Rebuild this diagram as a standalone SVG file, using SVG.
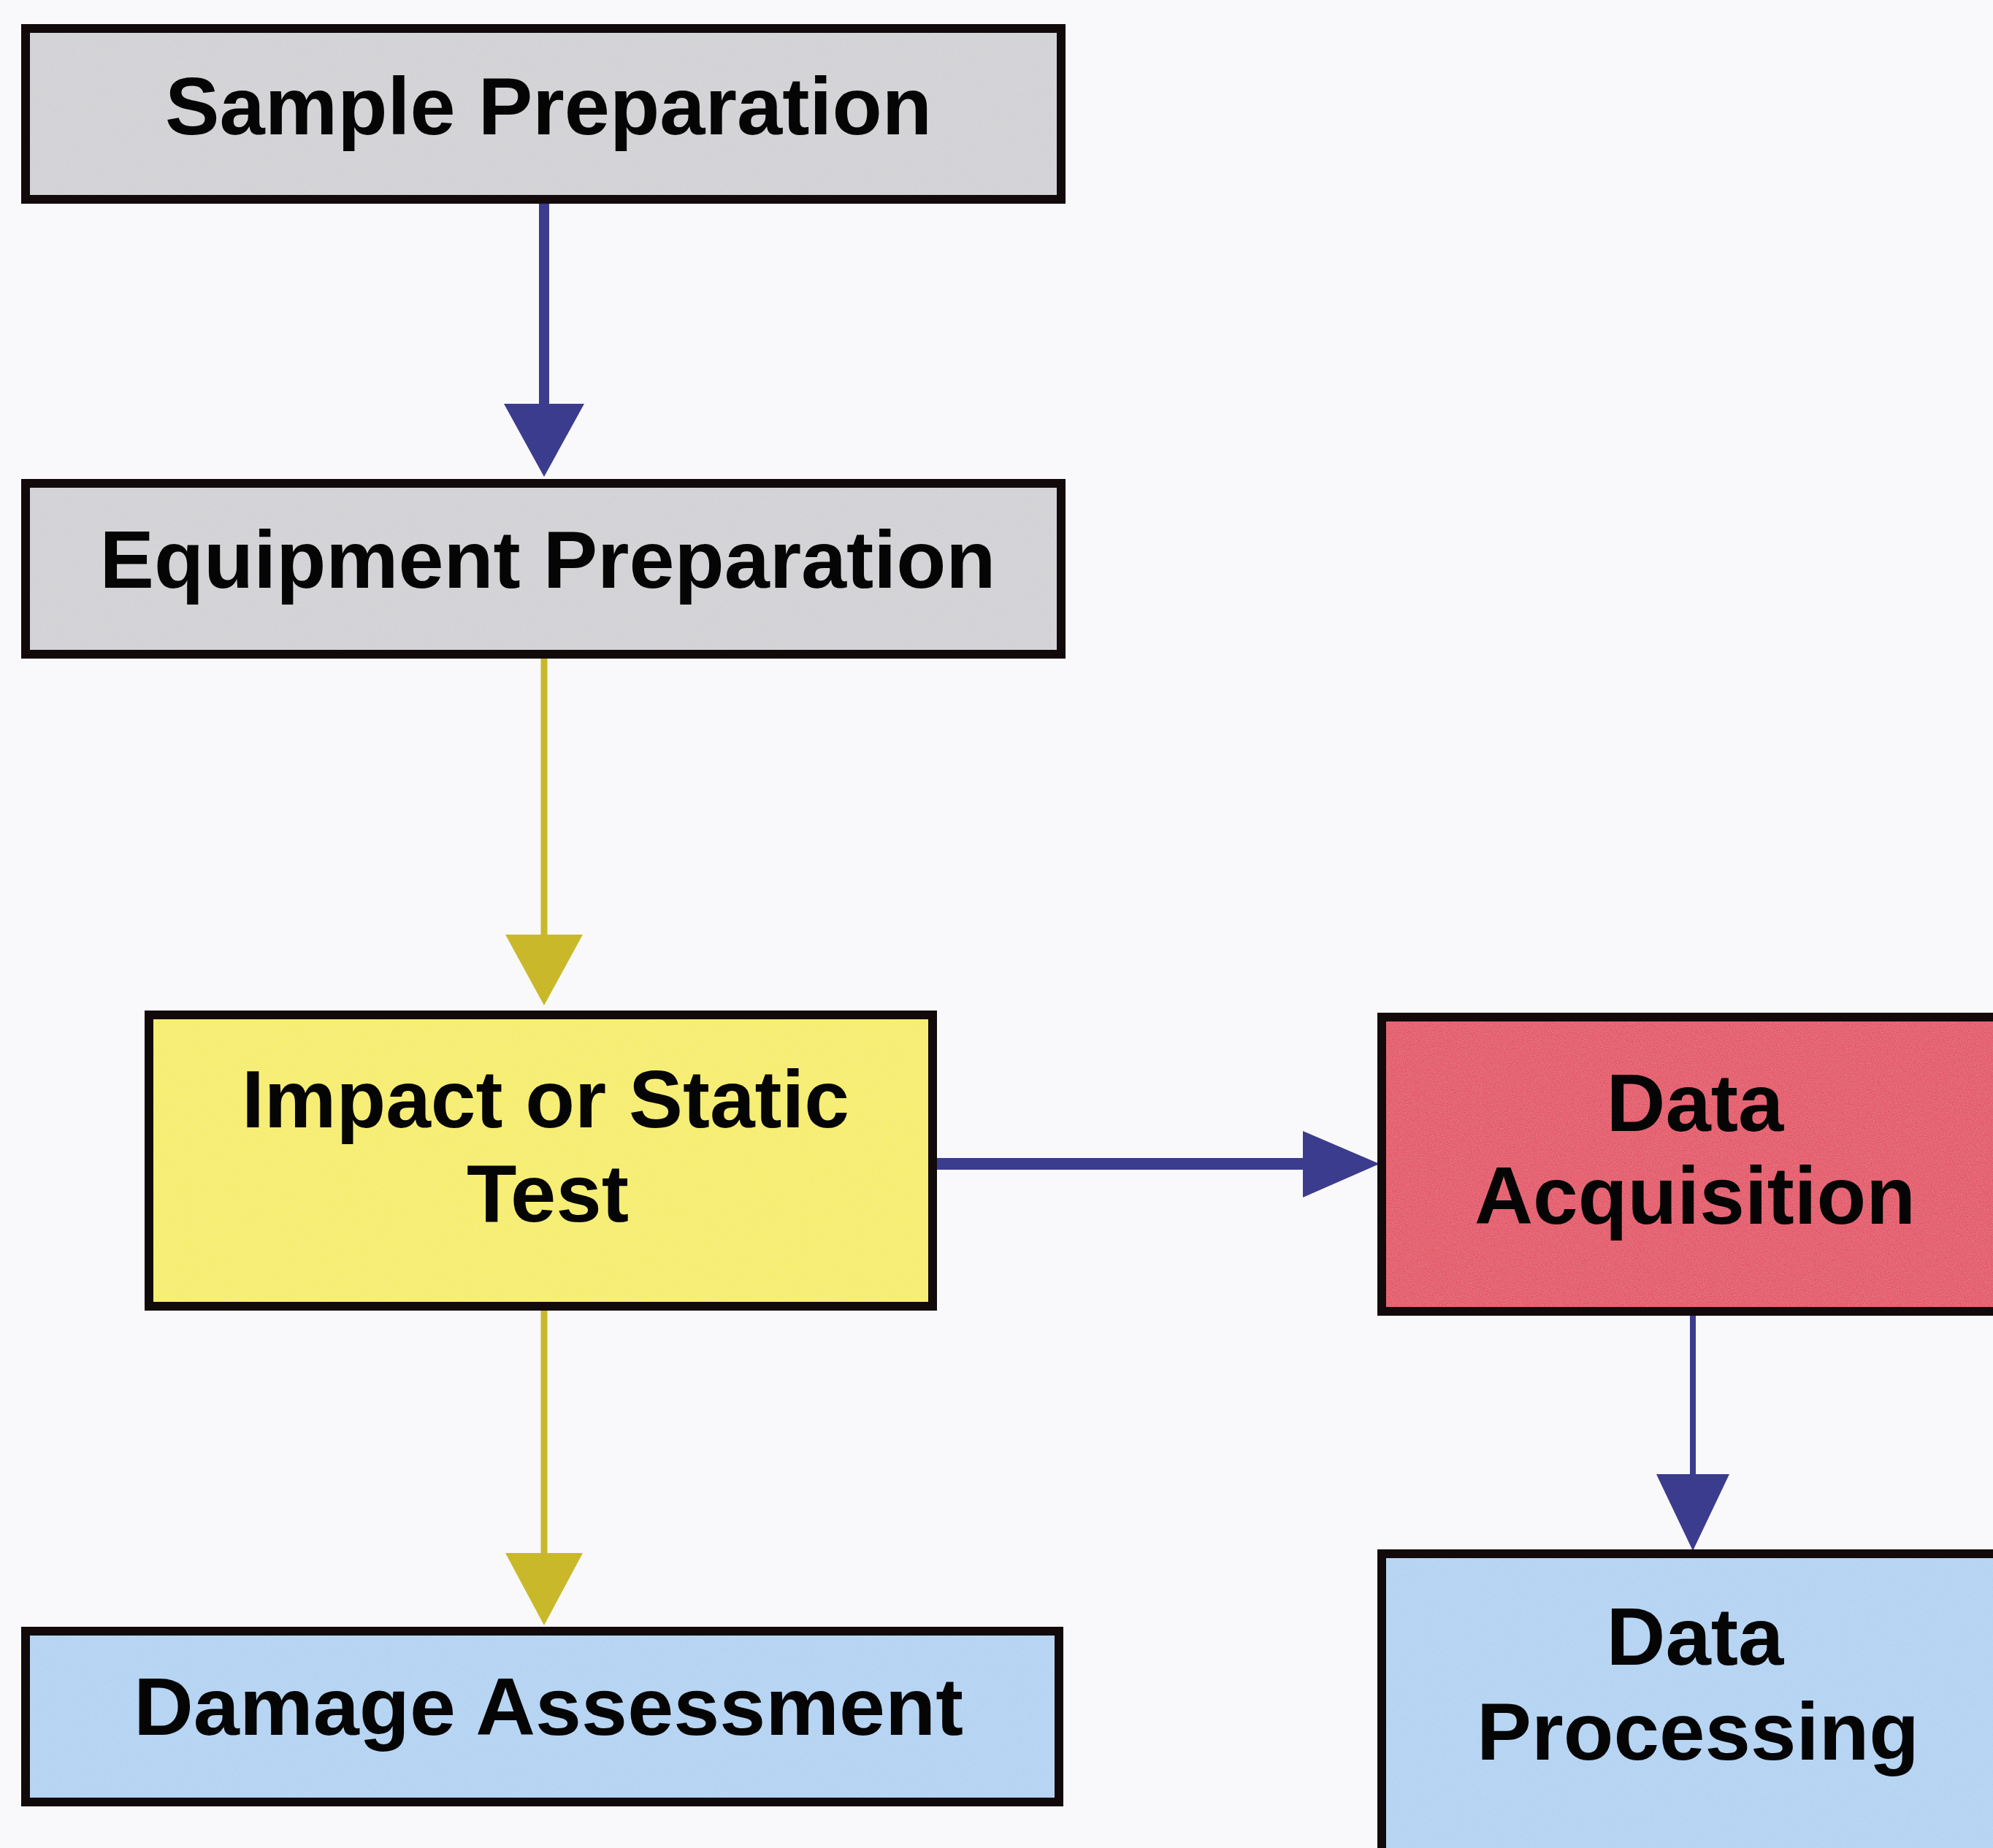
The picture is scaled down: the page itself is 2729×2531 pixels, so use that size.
<svg xmlns="http://www.w3.org/2000/svg" width="2729" height="2531" viewBox="0 0 2729 2531">
<style>
.frame{fill:none;stroke:#120a0a;stroke-width:12}
.gray{fill:#cfcfd3}
.yellow{fill:#f5ec5a}
.red{fill:#e23c56}
.blue{fill:#aed0f2}
.lbl{font-family:"Liberation Sans",Arial,sans-serif;font-weight:bold;font-size:112px;fill:#050505;text-anchor:middle}
.cb{stroke:#3c3c8e;fill:none}
.cy{stroke:#c9b92a;fill:none}
</style>
<defs>
<filter id="grain" x="0" y="0" width="1" height="1">
<feTurbulence type="fractalNoise" baseFrequency="0.9" numOctaves="2" seed="3" result="n"/>
<feColorMatrix in="n" type="matrix" values="0 0 0 0 1  0 0 0 0 1  0 0 0 0 1  0 0 0 0.22 -0.02" result="w"/>
<feComposite in="w" in2="SourceGraphic" operator="in" result="wm"/>
<feMerge><feMergeNode in="SourceGraphic"/><feMergeNode in="wm"/></feMerge>
</filter>
</defs>
<rect width="2729" height="2531" fill="#f9f9fc"/>
<g id="connectors">
<line class="cb" x1="745" y1="273" x2="745" y2="560" stroke-width="14"/>
<polygon points="690,553 800,553 745,653" fill="#3c3c8e"/>
<line class="cy" x1="745" y1="896" x2="745" y2="1285" stroke-width="9"/>
<polygon points="692,1280 798,1280 745,1377" fill="#c9b92a"/>
<line class="cy" x1="745" y1="1789" x2="745" y2="2130" stroke-width="9"/>
<polygon points="692,2127 798,2127 745,2226" fill="#c9b92a"/>
<line class="cb" x1="1277" y1="1594" x2="1790" y2="1594" stroke-width="16"/>
<polygon points="1784,1549 1784,1640 1889,1594" fill="#3c3c8e"/>
<line class="cb" x1="2318" y1="1796" x2="2318" y2="2025" stroke-width="8"/>
<polygon points="2268,2019 2368,2019 2318,2124" fill="#3c3c8e"/>
</g>
<g id="sample-preparation">
<rect class="gray" x="35" y="39" width="1418" height="234" filter="url(#grain)"/>
<rect class="frame" x="35" y="39" width="1418" height="234"/>
<text class="lbl" x="751" y="184" textLength="1050" lengthAdjust="spacingAndGlyphs">Sample Preparation</text>
</g>
<g id="equipment-preparation">
<rect class="gray" x="35" y="662" width="1418" height="234" filter="url(#grain)"/>
<rect class="frame" x="35" y="662" width="1418" height="234"/>
<text class="lbl" x="750" y="805" textLength="1227" lengthAdjust="spacingAndGlyphs">Equipment Preparation</text>
</g>
<g id="impact-or-static-test">
<rect class="yellow" x="204" y="1390" width="1073" height="399" filter="url(#grain)"/>
<rect class="frame" x="204" y="1390" width="1073" height="399"/>
<text class="lbl" x="747" y="1544" textLength="832" lengthAdjust="spacingAndGlyphs">Impact or Static</text>
<text class="lbl" x="750" y="1673">Test</text>
</g>
<g id="damage-assessment">
<rect class="blue" x="35" y="2234" width="1415" height="234" filter="url(#grain)"/>
<rect class="frame" x="35" y="2234" width="1415" height="234"/>
<text class="lbl" x="751" y="2376" textLength="1136" lengthAdjust="spacingAndGlyphs">Damage Assessment</text>
</g>
<g id="data-acquisition">
<rect class="red" x="1892" y="1393" width="880" height="403" filter="url(#grain)"/>
<rect class="frame" x="1892" y="1393" width="880" height="403"/>
<text class="lbl" x="2321" y="1549">Data</text>
<text class="lbl" x="2321" y="1676" textLength="604" lengthAdjust="spacingAndGlyphs">Acquisition</text>
</g>
<g id="data-processing">
<rect class="blue" x="1892" y="2128" width="880" height="440" filter="url(#grain)"/>
<rect class="frame" x="1892" y="2128" width="880" height="440"/>
<text class="lbl" x="2321" y="2280">Data</text>
<text class="lbl" x="2325" y="2410" textLength="606" lengthAdjust="spacingAndGlyphs">Processing</text>
</g>
</svg>
